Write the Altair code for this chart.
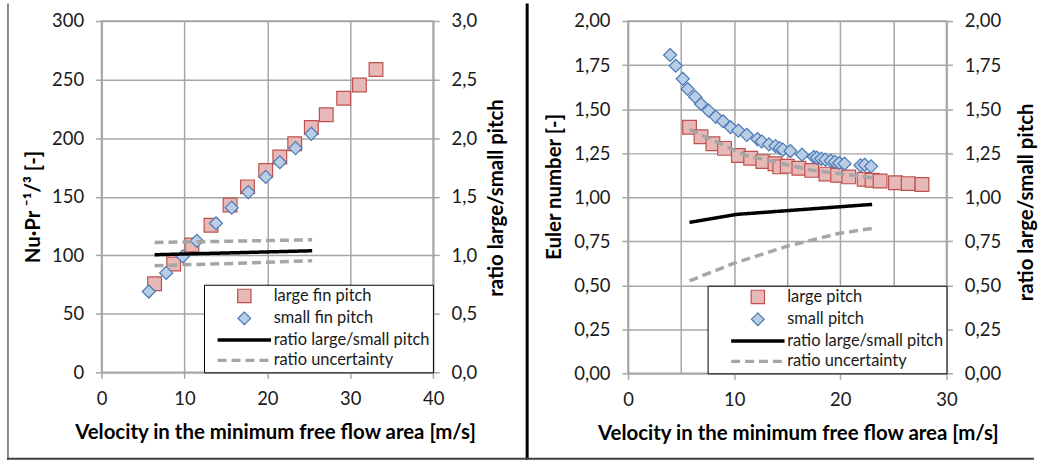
import altair as alt
import pandas as pd

# ---------------- heat transfer panel ----------------
nu_large_v = [6.4, 8.7, 10.9, 13.2, 15.5, 17.6, 19.8, 21.5, 23.3, 25.3, 27.1, 29.2, 31.1, 33.1]
nu_large = [75.6, 92.5, 108.7, 125.6, 142.9, 158.4, 172.3, 183.9, 195.2, 209.0, 219.9, 234.0, 245.3, 258.6]
nu_small_v = [5.7, 7.8, 9.8, 11.5, 13.8, 15.7, 17.7, 19.8, 21.5, 23.4, 25.3]
nu_small = [69.0, 84.9, 99.0, 112.3, 127.3, 140.6, 153.9, 166.9, 179.4, 191.5, 203.7]
nu_ratio_v = [6.4, 16.0, 25.4]
nu_ratio = [1.004, 1.021, 1.038]
nu_unc_hi = [1.109, 1.120, 1.132]
nu_unc_lo = [0.911, 0.930, 0.953]

# ---------------- pressure drop panel ----------------
eu_large_v = [5.8, 6.88, 8.0, 9.1, 10.4, 11.56, 12.7, 13.85, 14.3, 15.0, 16.1, 17.3,
              18.65, 19.75, 20.8, 22.25, 23.0, 23.75, 25.2, 26.4, 27.7]
eu_large = [1.397, 1.343, 1.303, 1.277, 1.237, 1.221, 1.202, 1.190, 1.172, 1.176, 1.164, 1.152,
            1.131, 1.124, 1.115, 1.102, 1.096, 1.092, 1.082, 1.077, 1.072]
eu_small_v = [3.97, 4.5, 5.16, 5.62, 6.33, 6.88, 7.6, 8.28, 8.95, 9.67, 10.4, 11.19, 12.19, 12.6,
              13.28, 13.9, 14.3, 14.6, 15.3, 16.4, 17.5, 17.8, 18.2, 18.6, 19.1, 19.5, 19.9, 20.4,
              21.9, 22.3, 22.9]
eu_small = [1.807, 1.746, 1.672, 1.614, 1.569, 1.529, 1.491, 1.456, 1.431, 1.397, 1.378, 1.354, 1.330, 1.316,
            1.300, 1.290, 1.278, 1.270, 1.262, 1.241, 1.228, 1.224, 1.218, 1.213, 1.207, 1.200, 1.194, 1.190,
            1.181, 1.184, 1.175]
eu_ratio_v = [5.8, 10.2, 15.8, 23.0]
eu_ratio = [0.857, 0.902, 0.927, 0.959]
eu_hi_v = [5.8, 11.1, 17.3, 23.0]
eu_hi = [1.384, 1.237, 1.153, 1.110]
eu_lo_v = [5.8, 10.0, 14.85, 19.84, 23.0]
eu_lo = [0.525, 0.625, 0.719, 0.794, 0.823]

# axis ticks
nu_ticks = [0, 50, 100, 150, 200, 250, 300]
nu_ratio_ticks = [0.0, 0.5, 1.0, 1.5, 2.0, 2.5, 3.0]
eu_ticks = [0.0, 0.25, 0.5, 0.75, 1.0, 1.25, 1.5, 1.75, 2.0]
nu_x_ticks = [0, 10, 20, 30, 40]
eu_x_ticks = [0, 5, 10, 15, 20, 25, 30]

nu_names = ["large fin pitch", "small fin pitch", "ratio large/small pitch", "ratio uncertainty"]
eu_names = ["large pitch", "small pitch", "ratio large/small pitch", "ratio uncertainty"]

# series styling (same order as the names above)
FILLS = ["#e6b9b8", "#b9cde5", "transparent", "transparent"]
STROKES = ["#c0504d", "#4a7ab5", "#000000", "#a6a6a6"]
SHAPES = ["M-1,-1H1V1H-1Z", "M0,-0.95L0.95,0L0,0.95L-0.95,0Z", "M-4,0H4", "M-4,0H4"]
DASHES = [[1, 0], [1, 0], [1, 0], [9, 5]]
WIDTHS = [1.2, 1.2, 3.5, 3.5]

FONT = "Lato"
GRID = "#a6a6a6"
TXT = "#1a1a1a"
LABEL_SIZE = 18.5
TITLE_SIZE = 20.5
STYLE_CHANNELS = ["fill", "stroke", "strokeWidth", "shape", "strokeDash"]


def point_table(names, v1, y1, v2, y2):
    return pd.DataFrame({
        "v": v1 + v2,
        "val": y1 + y2,
        "series": [names[0]] * len(v1) + [names[1]] * len(v2),
    })


def line_table(names, parts):
    rows = []
    for series, part, vs, ys in parts:
        for v, y in zip(vs, ys):
            rows.append({"v": v, "ratio": y, "series": series, "part": part})
    return pd.DataFrame(rows)


def legend(sym_offset):
    return alt.Legend(
        title=None, orient="bottom-right", offset=0, padding=3,
        symbolSize=180, symbolOffset=sym_offset, labelOffset=21, rowPadding=3.5,
        labelFont=FONT, labelFontSize=16.5, labelColor=TXT, labelLimit=400,
        strokeColor="#000000", fillColor="#ffffff",
    )


def ordinal(names, rng):
    return alt.Scale(type="ordinal", domain=names, range=rng)


def x_axis(values, rel_title_x, labels_every):
    return alt.Axis(
        values=values, format="d", title="Velocity in the minimum free flow area [m/s]",
        labelExpr=f"datum.value % {labels_every} === 0 ? datum.label : ''",
        tickOpacity={"condition": {"test": f"datum.value % {labels_every} !== 0", "value": 0}, "value": 1},
        labelFlush=False,
        grid=True, gridColor=GRID, gridWidth=1.5,
        domainColor=GRID, domainWidth=1.5, tickColor=GRID, tickWidth=1.5, tickSize=6,
        labelFont=FONT, labelFontSize=LABEL_SIZE, labelColor=TXT, labelPadding=11,
        titleFont=FONT, titleFontSize=TITLE_SIZE, titleFontWeight="bold", titleColor="#000000",
        titleX=rel_title_x, titleY=60, titleBaseline="middle", titleAlign="center",
    )


def y_axis(values, fmt, title, orient, tx, ty, grid):
    kw = dict(
        values=values, format=fmt, title=title, orient=orient, grid=grid,
        labelFlush=False,
        gridColor=GRID, gridWidth=1.5,
        domainColor=GRID, domainWidth=1.5, tickColor=GRID, tickWidth=1.5, tickSize=6,
        labelFont=FONT, labelFontSize=LABEL_SIZE, labelColor=TXT, labelPadding=12,
        titleFont=FONT, titleFontSize=TITLE_SIZE, titleFontWeight="bold", titleColor="#000000",
        titleAngle=270, titleX=tx, titleY=ty, titleBaseline="middle", titleAlign="center",
    )
    if fmt != "d":
        kw["labelExpr"] = "replace(datum.label, '.', ',')"
    return alt.Axis(**kw)


def panel(names, pts, lines, xmax, x_ticks, labels_every, xtitle_x,
          ymax, y_ticks, yfmt, ytitle, ltx, lty, r_ticks, rfmt, rtx, rty, w, h, sym_offset):
    xs = alt.Scale(domain=[0, xmax], nice=False, zero=True)
    lg = legend(sym_offset)
    points = alt.Chart(pts).mark_point(size=190, opacity=1, fillOpacity=1, strokeOpacity=1).encode(
        x=alt.X("v:Q", scale=xs, axis=x_axis(x_ticks, xtitle_x, labels_every)),
        y=alt.Y("val:Q", scale=alt.Scale(domain=[0, ymax], nice=False),
                axis=y_axis(y_ticks, yfmt, ytitle, "left", ltx, lty, True)),
        fill=alt.Fill("series:N", scale=ordinal(names, FILLS), legend=lg),
        stroke=alt.Stroke("series:N", scale=ordinal(names, STROKES), legend=lg),
        strokeWidth=alt.StrokeWidth("series:N", scale=ordinal(names, WIDTHS), legend=lg),
        shape=alt.Shape("series:N", scale=ordinal(names, SHAPES), legend=lg),
    )
    ratio = alt.Chart(lines).mark_line(strokeCap="butt").encode(
        x=alt.X("v:Q", scale=xs, axis=x_axis(x_ticks, xtitle_x, labels_every)),
        y=alt.Y("ratio:Q", scale=alt.Scale(domain=[0, r_ticks[-1]], nice=False),
                axis=y_axis(r_ticks, rfmt, "ratio large/small pitch", "right", rtx, rty, False)),
        stroke=alt.Stroke("series:N", scale=ordinal(names, STROKES), legend=lg),
        strokeWidth=alt.StrokeWidth("series:N", scale=ordinal(names, WIDTHS), legend=lg),
        strokeDash=alt.StrokeDash("series:N", scale=ordinal(names, DASHES), legend=lg),
        detail="part:N",
    )
    return alt.layer(points, ratio).resolve_scale(y="independent").properties(width=w, height=h)


nu_pts = point_table(nu_names, nu_large_v, nu_large, nu_small_v, nu_small)
nu_lines = line_table(nu_names, [
    (nu_names[2], "ratio", nu_ratio_v, nu_ratio),
    (nu_names[3], "hi", nu_ratio_v, nu_unc_hi),
    (nu_names[3], "lo", nu_ratio_v, nu_unc_lo),
])
eu_pts = point_table(eu_names, eu_large_v, eu_large, eu_small_v, eu_small)
eu_lines = line_table(eu_names, [
    (eu_names[2], "ratio", eu_ratio_v, eu_ratio),
    (eu_names[3], "hi", eu_hi_v, eu_hi),
    (eu_names[3], "lo", eu_lo_v, eu_lo),
])

# page frame: left edge, divider between the figures, bottom edge
one = pd.DataFrame({"k": [0]})
frame = alt.layer(
    alt.Chart(one).mark_rule(color="#8c8c8c", strokeWidth=2).encode(
        x=alt.value(-94), y=alt.value(-17.5), y2=alt.value(440.8)),
    alt.Chart(one).mark_rule(color="#000000", strokeWidth=3).encode(
        x=alt.value(427.7), y=alt.value(-17.5), y2=alt.value(440.8)),
    alt.Chart(one).mark_rule(color="#404040", strokeWidth=2).encode(
        x=alt.value(-95), x2=alt.value(937), y=alt.value(439.8)),
)

left = alt.layer(
    panel(nu_names, nu_pts, nu_lines, 40, nu_x_ticks, 10, 174.3,
          300, nu_ticks, "d", "Nu·Pr ⁻¹/³ [-]", -68.6, 186.5,
          nu_ratio_ticks, ".1f", 63.3, 177.3, 333.3, 353, 29),
    frame,
)
right = panel(eu_names, eu_pts, eu_lines, 30, eu_x_ticks, 10, 170.7,
              2.0, eu_ticks, ".2f", "Euler number [-]", -73.3, 166.2,
              eu_ticks, ".2f", 80.7, 181.7, 320, 354, 39)

chart = alt.hconcat(left, right, spacing=195, bounds="flush").resolve_scale(
    **{c: "independent" for c in STYLE_CHANNELS}
).resolve_legend(
    **{c: "independent" for c in STYLE_CHANNELS}
).properties(
    padding={"left": 5, "top": 0, "right": 0, "bottom": 0},
    background="#ffffff",
).configure_view(stroke=GRID, strokeWidth=1.5)

chart.save("out.html", embed_options={"renderer": "svg", "actions": False})
